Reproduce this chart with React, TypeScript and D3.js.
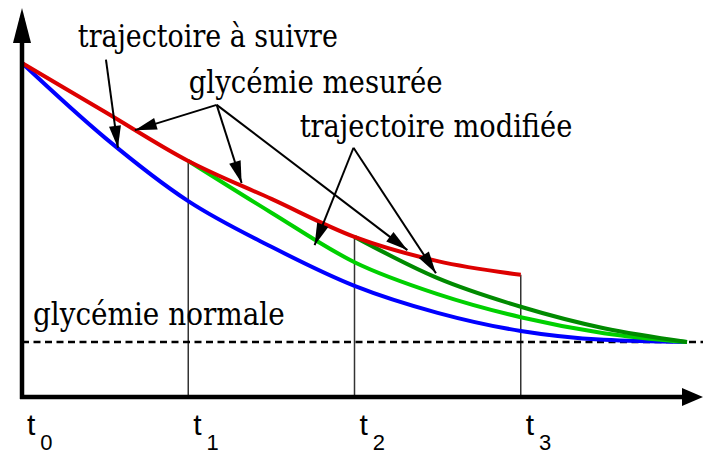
import * as d3 from "d3";

// time marks t0..t3 and the normal glycaemia level
const TICK_T = [0, 1, 2, 3];
const TICK_SUB = ["0", "1", "2", "3"];
const NORMAL_LEVEL = 1;

// trajectoire à suivre / glycémie mesurée (red)
const redT = [0, 0.5, 1, 1.5, 2, 2.5, 3];
const redV = [6.07, 5.18, 4.29, 3.6, 2.91, 2.47, 2.22];
// blue curve
const blueT = [0, 0.5, 1, 1.5, 2, 2.5, 3, 3.5, 4];
const blueV = [6.07, 4.71, 3.56, 2.73, 2.02, 1.53, 1.2, 1.04, 1.0];
// trajectoire modifiée from t1 (light green)
const lightT = [1, 1.5, 2, 2.5, 3, 3.5, 4];
const lightV = [4.29, 3.35, 2.45, 1.87, 1.45, 1.16, 1.0];
// trajectoire modifiée from t2 (dark green)
const darkT = [2, 2.5, 3, 3.5, 4];
const darkV = [2.91, 2.16, 1.64, 1.25, 1.0];

// annotation texts (start t, end t, baseline value)
const labelText = ["trajectoire à suivre", "glycémie mesurée", "trajectoire modifiée", "glycémie normale"];
const labelT = [0.336, 1.003, 1.67, 0.066];
const labelEndT = [1.9, 2.53, 3.31, 1.58];
const labelV = [6.36, 5.53, 4.73, 1.31];

// annotation arrows: [fromT, fromV, toT, toV]
const arrowLines: number[][] = [
  [0.505, 6.13, 0.577, 4.53],
  [1.171, 5.31, 0.679, 4.85],
  [1.171, 5.31, 1.321, 3.89],
  [1.171, 5.31, 2.318, 2.67],
  [1.994, 4.53, 1.76, 2.76],
  [1.994, 4.53, 2.49, 2.25],
];

const W = 703;
const H = 455;
const SERIF = "DejaVu Serif, Liberation Serif, Times New Roman, serif";
const SANS = "Liberation Sans, Arial, DejaVu Sans, sans-serif";

function head(x1: number, y1: number, x2: number, y2: number, len: number, half: number) {
  const a = Math.atan2(y2 - y1, x2 - x1);
  const bx = x2 - len * Math.cos(a);
  const by = y2 - len * Math.sin(a);
  const nx = -Math.sin(a) * half;
  const ny = Math.cos(a) * half;
  return `M${x2},${y2}L${bx + nx},${by + ny}L${bx - nx},${by - ny}Z`;
}

export default function App() {
  const x = d3.scaleLinear().domain([0, 4]).range([22, 687]);
  const y = d3.scaleLinear().domain([0, 7.07]).range([397, 8]);

  const line = d3
    .line<[number, number]>()
    .x((d) => x(d[0]))
    .y((d) => y(d[1]))
    .curve(d3.curveMonotoneX);

  const zip = (ts: number[], vs: number[]) => ts.map((t, i) => [t, vs[i]] as [number, number]);

  const curves = [
    { pts: zip(blueT, blueV), color: "#0000ff" },
    { pts: zip(lightT, lightV), color: "#00d000" },
    { pts: zip(darkT, darkV), color: "#008a00" },
    { pts: zip(redT, redV), color: "#dd0000" },
  ];

  const x0 = x(0);
  const y0 = y(0);
  const xEnd = W;
  const yTop = y(7.07);

  return (
    <svg width={W} height={H} style={{ position: "absolute", left: 0, top: 0, background: "#fff" }}>
      {/* vertical lines at t1..t3 */}
      {TICK_T.slice(1).map((t) => {
        const v = redV[redT.indexOf(t)];
        return <line key={t} x1={x(t)} x2={x(t)} y1={y(v)} y2={y0} stroke="#333" strokeWidth={1.5} />;
      })}

      {/* normal level */}
      <line
        x1={x0}
        x2={xEnd}
        y1={y(NORMAL_LEVEL)}
        y2={y(NORMAL_LEVEL)}
        stroke="#000"
        strokeWidth={2.5}
        strokeDasharray="7,4.5"
      />

      {curves.map((c, i) => (
        <path key={i} d={line(c.pts) || ""} fill="none" stroke={c.color} strokeWidth={4} />
      ))}

      {/* axes */}
      <line x1={x0} x2={x0} y1={y0 + 2} y2={yTop + 10} stroke="#000" strokeWidth={4.5} />
      <path d={head(x0, y0, x0, yTop, 35, 9)} fill="#000" />
      <line x1={x0 - 2} x2={xEnd - 10} y1={y0} y2={y0} stroke="#000" strokeWidth={4.5} />
      <path d={head(x0, y0, xEnd, y0, 21, 9)} fill="#000" />

      {/* annotation arrows */}
      {arrowLines.map((a, i) => {
        const x1 = x(a[0]), y1 = y(a[1]), x2 = x(a[2]), y2 = y(a[3]);
        return (
          <g key={i}>
            <line x1={x1} y1={y1} x2={x2} y2={y2} stroke="#000" strokeWidth={2} />
            <path d={head(x1, y1, x2, y2, 22, 6)} fill="#000" />
          </g>
        );
      })}

      {/* labels */}
      {labelText.map((s, i) => (
        <text
          key={i}
          x={x(labelT[i])}
          y={y(labelV[i])}
          textLength={x(labelEndT[i]) - x(labelT[i])}
          lengthAdjust="spacingAndGlyphs"
          style={{ fontFamily: SERIF, fontSize: 32 }}
          fill="#000"
        >
          {s}
        </text>
      ))}

      {/* time labels */}
      {TICK_T.map((t, i) => (
        <text key={t} x={x(t) + 5} y={y0 + 38} style={{ fontFamily: SANS }} fill="#000">
          <tspan style={{ fontSize: 30 }}>t</tspan>
          <tspan style={{ fontSize: 22, fontWeight: 300 }} dx={5} dy={15}>
            {TICK_SUB[i]}
          </tspan>
        </text>
      ))}
    </svg>
  );
}
